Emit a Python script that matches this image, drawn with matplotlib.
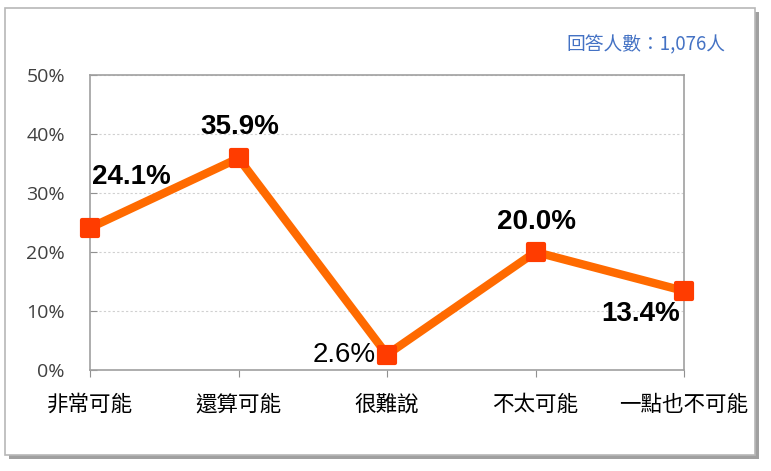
import matplotlib
matplotlib.use("Agg")
import matplotlib.pyplot as plt
from matplotlib.patches import Rectangle
from matplotlib.markers import MarkerStyle

categories = ["非常可能", "還算可能", "很難說", "不太可能", "一點也不可能"]
values = [24.1, 35.9, 2.6, 20.0, 13.4]
yticks = [0, 10, 20, 30, 40, 50]
ytick_labels = ["0%", "10%", "20%", "30%", "40%", "50%"]
note = "回答人數：1,076人"

cjk = ["Noto Sans CJK TC", "DejaVu Sans"]

fig = plt.figure(figsize=(7.71, 4.71), dpi=100)
fig.patch.set_facecolor("white")

# outer frame with shadow
fig.patches.append(Rectangle((9/771, 1-459/471), 750/771, 447/471, transform=fig.transFigure,
                             facecolor="#a0a0a0", edgecolor="none", zorder=0))
fig.patches.append(Rectangle((5/771, 1-455/471), 750/771, 447/471, transform=fig.transFigure,
                             facecolor="white", edgecolor="#b8b8b8", linewidth=1.2, zorder=1))

ax = fig.add_axes([90/771, 1-370/471, (684-90)/771, (370-75)/471])
ax.set_zorder(5)
ax.set_facecolor("none")
x = list(range(len(categories)))
ax.plot(x, values, color="#FF6A00", linewidth=6, zorder=3, clip_on=False,
        solid_joinstyle="miter")
ax.plot(x, values, linestyle="none", marker=MarkerStyle("s", joinstyle="round"), markersize=12,
        markerfacecolor="#FF3C00", markeredgecolor="#FF3C00", markeredgewidth=3,
        zorder=4, clip_on=False)

ax.set_xlim(0, 4)
ax.set_ylim(0, 50)
ax.set_yticks(yticks)
ax.set_yticklabels(ytick_labels, fontsize=14, color="#404040", family=["Open Sans", "DejaVu Sans"])
ax.set_xticks(x)
ax.set_xticklabels(categories, fontsize=15.5, fontweight="medium", color="black", family=cjk)
ax.tick_params(axis="y", length=5, direction="in", color="#909090", pad=18)
ax.tick_params(axis="x", length=5, direction="out", color="#909090", pad=12)
ax.yaxis.grid(True, linestyle=(0, (2, 2)), color="#d0d0d0", linewidth=0.8)
ax.set_axisbelow(True)
for s in ax.spines.values():
    s.set_color("#a0a0a0")
    s.set_linewidth(1.2)

bold = dict(fontsize=20, fontweight="bold", family=["Liberation Sans", "DejaVu Sans"], color="black")
ax.annotate(f"{values[0]:.1f}%", (x[0], values[0]), xytext=(2, 38), textcoords="offset pixels",
            ha="left", va="bottom", **bold)
ax.annotate(f"{values[1]:.1f}%", (x[1], values[1]), xytext=(1, 18), textcoords="offset pixels",
            ha="center", va="bottom", **bold)
ax.annotate(f"{values[2]:.1f}%", (x[2], values[2]), xytext=(-11, 0), textcoords="offset pixels",
            ha="right", va="center", fontsize=20, family=["Liberation Sans", "DejaVu Sans"], color="black")
ax.annotate(f"{values[3]:.1f}%", (x[3], values[3]), xytext=(1, 17), textcoords="offset pixels",
            ha="center", va="bottom", **bold)
ax.annotate(f"{values[4]:.1f}%", (x[4], values[4]), xytext=(-43, -23), textcoords="offset pixels",
            ha="center", va="center", **bold)

fig.text(725/771, 1-45/471, note, ha="right", va="center", fontsize=13.5, fontweight="medium",
         color="#4472C4", family=cjk, zorder=6)

fig.savefig("out.png", dpi=100)
